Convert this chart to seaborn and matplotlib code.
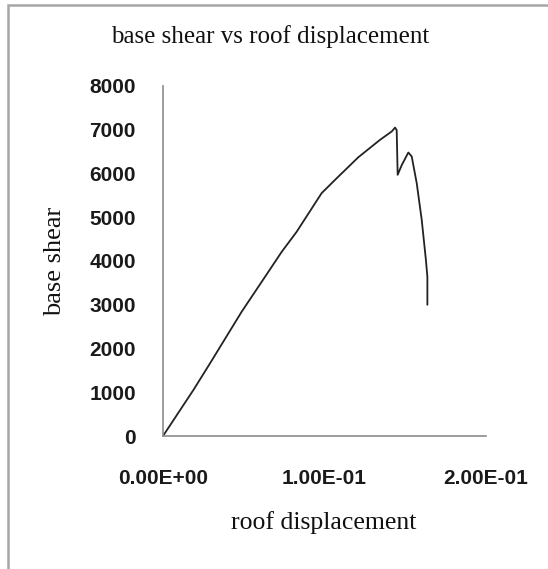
import pandas as pd
import seaborn as sns
import matplotlib.pyplot as plt
from matplotlib.patches import Rectangle

# roof displacement vs base shear
roof_disp = [0.0, 0.0188, 0.0291, 0.0487, 0.0632, 0.0735, 0.0828, 0.0982,
             0.1075, 0.1209, 0.1344, 0.1416, 0.1437, 0.1447, 0.1453, 0.1478,
             0.1519, 0.1540, 0.1571, 0.1602, 0.1628, 0.1637, 0.1637]
base_shear = [0, 1050, 1660, 2840, 3640, 4210, 4670, 5550,
              5890, 6370, 6770, 6960, 7050, 6990, 5970, 6190,
              6480, 6390, 5780, 4940, 4020, 3640, 3000]

x_ticks = [0.0, 0.1, 0.2]
x_tick_labels = ["0.00E+00", "1.00E-01", "2.00E-01"]
y_ticks = [0, 1000, 2000, 3000, 4000, 5000, 6000, 7000, 8000]

df = pd.DataFrame({"roof displacement": roof_disp, "base shear": base_shear})

sns.set_theme(style="white")
plt.rcParams["font.family"] = ["Liberation Sans", "DejaVu Sans"]

fig = plt.figure(figsize=(5.48, 5.69), dpi=100)
ax = fig.add_axes([163 / 548, 1 - 436 / 569, 323 / 548, 350 / 569])

sns.lineplot(data=df, x="roof displacement", y="base shear", sort=False,
             estimator=None, color="#222222", linewidth=1.3, ax=ax)

ax.set_xlim(0, 0.2)
ax.set_ylim(0, 8000)
ax.set_xticks(x_ticks)
ax.set_xticklabels(x_tick_labels)
ax.set_yticks(y_ticks)
ax.set_xlabel("")
ax.set_ylabel("")
ax.tick_params(length=0, labelsize=15, labelcolor="#1a1a1a")
ax.tick_params(axis="x", pad=24)
ax.tick_params(axis="y", pad=19.5)
for lab in ax.get_xticklabels() + ax.get_yticklabels():
    lab.set_fontweight("bold")

for side in ["top", "right"]:
    ax.spines[side].set_visible(False)
for side in ["left", "bottom"]:
    ax.spines[side].set_color("#8c8c8c")
    ax.spines[side].set_linewidth(1.2)

serif = ["Liberation Serif", "DejaVu Serif"]
fig.text(270 / 548, 1 - 37 / 569, "base shear vs roof displacement",
         ha="center", va="center", fontsize=18, family=serif, color="#111111")
fig.text(55 / 548, 1 - 261 / 569, "base shear", rotation=90,
         ha="center", va="center", fontsize=19, family=serif, color="#111111")
fig.text(324 / 548, 1 - 523 / 569, "roof displacement",
         ha="center", va="center", fontsize=18.5, family=serif, color="#111111")

# chart area border (right and bottom run past the picture edge)
fig.patches.append(Rectangle((8 / 548, -0.05), 1.1, 1 - 5 / 569 + 0.05,
                             transform=fig.transFigure, fill=False,
                             edgecolor="#a6a6a6", linewidth=1.8))

fig.savefig("out.png", dpi=100)
